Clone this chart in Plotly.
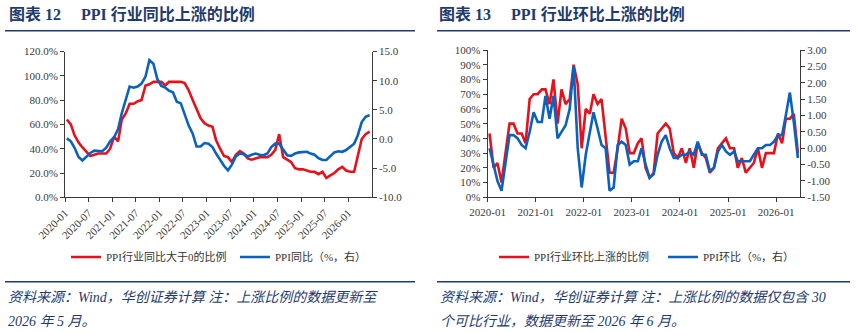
import pandas as pd
import plotly.graph_objects as go

# ---------------- data ----------------
months = pd.date_range("2020-01-01", periods=78, freq="MS")
month_pts = months + pd.Timedelta(days=14)   # points drawn between tick marks (mid-month)

# Left chart: share of PPI industries with YoY > 0 (%), and PPI YoY (%)
yoy_up_ratio = [64, 60, 51, 45, 41, 37, 34, 35, 36, 36, 36, 40,
                50, 46, 64, 69, 77, 77, 79, 80, 92, 93, 95, 95,
                95, 92, 95, 95, 95, 95, 94, 88, 80, 72, 65, 61,
                59, 58, 47, 40, 34, 33, 29, 35, 38, 36, 32, 31,
                32, 33, 33, 33, 35, 39, 52, 33, 31, 29, 24, 23,
                23, 22, 21, 21, 19, 21, 16, 18, 20, 23, 25, 22,
                21, 21, 35, 48, 52, 54]
ppi_yoy = [0.1, -0.4, -1.5, -3.1, -3.7, -3.0, -2.4, -2.0, -2.1, -2.1, -1.5, -0.4,
           0.3, 1.7, 4.4, 6.8, 9.0, 8.8, 9.0, 9.5, 10.7, 13.5, 12.9, 10.3,
           9.1, 8.8, 8.3, 8.0, 6.4, 6.1, 4.2, 2.3, 0.9, -1.3, -1.3, -0.7,
           -0.8, -1.4, -2.5, -3.6, -4.6, -5.4, -4.4, -3.0, -2.5, -2.6, -3.0, -2.7,
           -2.5, -2.7, -2.8, -2.5, -1.4, -0.8, -0.8, -1.8, -2.8, -2.9, -2.5, -2.3,
           -2.3, -2.2, -2.5, -2.7, -3.3, -3.6, -3.6, -2.9, -2.3, -2.1, -2.2, -1.9,
           -1.3, -0.8, 0.6, 2.9, 3.8, 4.1]

# Right chart: share of 30 industries with MoM rise (%), and PPI MoM (%)
mom_up_ratio = [43.3, 20.0, 23.3, 10.0, 30.0, 50.0, 50.0, 43.3, 43.3, 36.7, 66.7, 70.0,
                70.0, 73.3, 73.3, 63.3, 80.0, 50.0, 73.3, 63.3, 66.7, 90.0, 76.7, 33.3,
                60.0, 56.7, 70.0, 63.3, 66.7, 43.3, 16.7, 16.7, 33.3, 53.3, 46.7, 30.0,
                30.0, 36.7, 40.0, 20.0, 13.3, 16.7, 43.3, 46.7, 50.0, 46.7, 30.0, 26.7,
                33.3, 23.3, 33.3, 20.0, 36.7, 30.0, 26.7, 16.7, 20.0, 33.3, 36.7, 40.0,
                33.3, 33.3, 20.0, 26.7, 16.7, 20.0, 23.3, 33.3, 20.0, 30.0, 30.0, 30.0,
                43.3, 36.7, 53.3, 53.3, 56.7, 30.0]
ppi_mom = [0.0, -0.5, -1.0, -1.3, -0.4, 0.4, 0.4, 0.3, 0.1, 0.0, 0.5, 1.1,
           0.8, 0.8, 1.6, 0.9, 1.6, 0.3, 0.5, 0.7, 1.2, 2.5, 0.0, -1.2,
           -0.2, 0.5, 1.1, 0.6, 0.1, 0.0, -1.3, -1.2, 0.1, 0.2, 0.1, -0.5,
           -0.4, -0.4, 0.0, -0.5, -0.9, -0.8, -0.2, 0.2, 0.4, 0.0, -0.3, -0.3,
           -0.2, -0.2, -0.1, -0.2, 0.2, -0.2, -0.2, -0.7, -0.6, -0.1, 0.1, -0.1,
           -0.2, -0.1, -0.4, -0.4, -0.4, -0.4, -0.2, 0.0, 0.0, 0.1, 0.1, 0.2,
           0.4, 0.4, 1.0, 1.7, 0.8, -0.3]

# tick labels
left_x_text = ["2020-01", "2020-07", "2021-01", "2021-07", "2022-01", "2022-07", "2023-01",
               "2023-07", "2024-01", "2024-07", "2025-01", "2025-07", "2026-01"]
right_x_text = ["2020-01", "2021-01", "2022-01", "2023-01", "2024-01", "2025-01", "2026-01"]
left_y_ticks = [0, 20, 40, 60, 80, 100, 120]
left_y_text = ["0.0%", "20.0%", "40.0%", "60.0%", "80.0%", "100.0%", "120.0%"]
left_y2_ticks = [-10, -5, 0, 5, 10, 15]
left_y2_text = ["-10.0", "-5.0", "0.0", "5.0", "10.0", "15.0"]
right_y_ticks = [0, 10, 20, 30, 40, 50, 60, 70, 80, 90, 100]
right_y_text = ["0%", "10%", "20%", "30%", "40%", "50%", "60%", "70%", "80%", "90%", "100%"]
right_y2_ticks = [-1.5, -1.0, -0.5, 0.0, 0.5, 1.0, 1.5, 2.0, 2.5, 3.0]
right_y2_text = ["-1.50", "-1.00", "-0.50", "0.00", "0.50", "1.00", "1.50", "2.00", "2.50", "3.00"]

# ---------------- style ----------------
W, H = 859, 333
RED = "#E8101A"
BLUE = "#0A62BE"
NAVY = "#1E3A6E"
AX = "#3A3A3A"
FONT = "Liberation Serif, Noto Sans CJK SC, serif"
CJK = "Liberation Serif, Noto Sans CJK SC"

def px(x):
    return x / W

def py(y):
    return 1 - y / H

fig = go.Figure()
fig.add_trace(go.Scatter(x=month_pts, y=yoy_up_ratio, mode="lines", name="PPI行业同比大于0的比例",
                         line=dict(color=RED, width=2.6), xaxis="x", yaxis="y", legend="legend"))
fig.add_trace(go.Scatter(x=month_pts, y=ppi_yoy, mode="lines", name="PPI同比（%，右）",
                         line=dict(color=BLUE, width=2.6), xaxis="x", yaxis="y2", legend="legend"))
fig.add_trace(go.Scatter(x=month_pts, y=mom_up_ratio, mode="lines", name="PPI行业环比上涨的比例",
                         line=dict(color=RED, width=2.6), xaxis="x2", yaxis="y3", legend="legend2"))
fig.add_trace(go.Scatter(x=month_pts, y=ppi_mom, mode="lines", name="PPI环比（%，右）",
                         line=dict(color=BLUE, width=2.6), xaxis="x2", yaxis="y4", legend="legend2"))

tickfont = dict(family=FONT, size=11, color=AX)
common_axis = dict(showgrid=False, zeroline=False, showline=True, linecolor=AX, linewidth=1,
                   ticks="outside", ticklen=4, tickcolor=AX, tickfont=tickfont, automargin=False)

yd_left = [py(197.3), py(51.5)]
yd_right = [py(197.3), py(50)]

fig.update_layout(
    width=W, height=H, autosize=False,
    margin=dict(l=0, r=0, t=0, b=0, autoexpand=False),
    paper_bgcolor="white", plot_bgcolor="white",
    xaxis=dict(domain=[px(65), px(371.7)], anchor="y", type="date",
               range=["2020-01-01", "2026-07-01"],
               tickvals=[t + "-01" for t in left_x_text], ticktext=left_x_text,
               tickangle=-45, **common_axis),
    yaxis=dict(domain=yd_left, anchor="x", range=[0, 120], tickvals=left_y_ticks,
               ticktext=left_y_text, **common_axis),
    yaxis2=dict(overlaying="y", side="right", anchor="x", range=[-10, 15],
                tickvals=left_y2_ticks, ticktext=left_y2_text, **common_axis),
    xaxis2=dict(domain=[px(487.7), px(800)], anchor="y3", type="date",
                range=["2020-01-01", "2026-07-01"],
                tickvals=[t + "-01" for t in right_x_text], ticktext=right_x_text,
                tickangle=0, **common_axis),
    yaxis3=dict(domain=yd_right, anchor="x2", range=[0, 100], tickvals=right_y_ticks,
                ticktext=right_y_text, **common_axis),
    yaxis4=dict(overlaying="y3", side="right", anchor="x2", range=[-1.5, 3],
                tickvals=right_y2_ticks, ticktext=right_y2_text, **common_axis),
    legend=dict(orientation="h", x=px(66), y=py(257), xanchor="left", yanchor="middle",
                bgcolor="rgba(0,0,0,0)", font=dict(family=CJK, size=11, color="#333333"),
                itemwidth=30, entrywidth=124, entrywidthmode="pixels", tracegroupgap=0),
    legend2=dict(orientation="h", x=px(494), y=py(257), xanchor="left", yanchor="middle",
                 bgcolor="rgba(0,0,0,0)", font=dict(family=CJK, size=11, color="#333333"),
                 itemwidth=30, entrywidth=124, entrywidthmode="pixels", tracegroupgap=0),
    showlegend=True,
)

NB = "\u00a0"
title_font = dict(family=CJK, size=16, color=NAVY, weight="bold")
note_font = dict(family=CJK, size=14, color=NAVY, style="italic")
annos = [
    dict(text="图表" + NB + "12" + NB * 5 + "PPI" + NB + "行业同比上涨的比例", x=px(7), y=py(14),
         font=title_font),
    dict(text="图表" + NB + "13" + NB * 5 + "PPI" + NB + "行业环比上涨的比例", x=px(437), y=py(14),
         font=title_font),
    dict(text="资料来源：Wind，华创证券计算" + NB + "注：上涨比例的数据更新至", x=px(6), y=py(297),
         font=note_font),
    dict(text="2026" + NB + "年" + NB + "5" + NB + "月。", x=px(6), y=py(321), font=note_font),
    dict(text="资料来源：Wind，华创证券计算" + NB + "注：上涨比例的数据仅包含" + NB + "30", x=px(438), y=py(297),
         font=note_font),
    dict(text="个可比行业，数据更新至" + NB + "2026" + NB + "年" + NB + "6" + NB + "月。", x=px(438), y=py(321),
         font=note_font),
]
for a in annos:
    fig.add_annotation(xref="paper", yref="paper", xanchor="left", yanchor="middle",
                       showarrow=False, **a)

line_style = dict(color=NAVY, width=1.5)
for x0, x1, y in [(5, 415, 30.7), (437, 850, 30.7), (5, 415, 281.7), (437, 850, 281.7)]:
    fig.add_shape(type="line", xref="paper", yref="paper", x0=px(x0), x1=px(x1),
                  y0=py(y), y1=py(y), line=line_style)

fig.write_html("out.html")
